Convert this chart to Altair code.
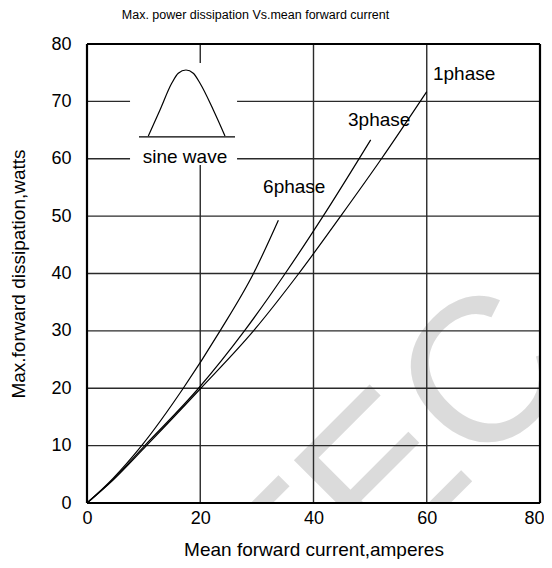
import altair as alt
import pandas as pd

# ---- data ----
x_1phase = [0, 4.6, 10.5, 20.1, 29.4, 37.4, 44.8, 52.0, 60.0]
y_1phase = [0, 4.0, 10, 20, 30, 40, 50, 60, 71.7]
x_3phase = [0, 4.6, 10.2, 19.7, 27.8, 35.0, 41.7, 50.1]
y_3phase = [0, 4.1, 10, 20, 30, 40, 50, 63.3]
x_6phase = [0, 4.6, 9.65, 17.0, 23.5, 29.4, 33.8]
y_6phase = [0, 4.3, 10, 20, 30, 40, 49.3]

series_names = ["1phase", "3phase", "6phase"]
label_x = [61.1, 46.1, 31.1]
label_y = [74.8, 66.8, 55.1]

x_ticks = [0, 20, 40, 60, 80]
y_ticks = [0, 10, 20, 30, 40, 50, 60, 70, 80]
x_grid = [20, 40, 60]
y_grid = [10, 20, 30, 40, 50, 60, 70]
frame_vals = [0, 80]

# sine-wave inset glyph
sine_x = [10.83, 12.89, 14.96, 16.12, 17.48, 18.77, 19.96, 22.31, 24.37]
sine_y = [63.97, 68.5, 73.15, 74.9, 75.47, 74.9, 73.15, 68.5, 63.97]
sine_base_x = [9.18, 26.14]
sine_base_y = 63.8
inset_box_x = [7.6, 26.5]
inset_box_y = [58.9, 76.7]
inset_label = "sine wave"
inset_label_pos = [17.3, 60.3]

rows = []
for name, xs_, ys_ in [("1phase", x_1phase, y_1phase),
                       ("3phase", x_3phase, y_3phase),
                       ("6phase", x_6phase, y_6phase)]:
    for i, (a, b) in enumerate(zip(xs_, ys_)):
        rows.append({"series": name, "x": a, "y": b, "order": i})
curves_df = pd.DataFrame(rows)
labels_df = pd.DataFrame({"series": series_names, "x": label_x, "y": label_y})
sine_df = pd.DataFrame({"x": sine_x, "y": sine_y, "order": list(range(len(sine_x)))})

FONT = "Liberation Sans"
xs = alt.Scale(domain=[0, 80], nice=False)
ys = alt.Scale(domain=[0, 80], nice=False)

# faint watermark inside the plot area
watermark = alt.Chart(pd.DataFrame({"t": ["TEC"]})).mark_text(
    font=FONT, fontSize=205, angle=315, align="left", baseline="alphabetic",
    color="#c4c4c4", opacity=0.6, clip=True
).encode(x=alt.datum(36.4, scale=xs), y=alt.datum(-27.4, scale=ys), text="t:N")

vgrid = alt.Chart(pd.DataFrame({"g": x_grid})).mark_rule(
    color="#2a2a2a", strokeWidth=1.4
).encode(
    x=alt.X("g:Q", scale=xs, axis=alt.Axis(
        values=x_ticks, grid=False, ticks=False, domain=False,
        labelFontSize=18, labelFont=FONT, labelColor="#000", labelPadding=6,
        labelAlign=alt.condition("datum.value == 80", alt.value("right"), alt.value("center")),
        labelOffset=alt.condition("datum.value == 80", alt.value(4), alt.value(0)),
        title="Mean forward  current,amperes", titleFontSize=19, titleFont=FONT,
        titleFontWeight="normal", titleColor="#000", titlePadding=13)),
    y=alt.datum(0, scale=ys), y2=alt.datum(80),
)
hgrid = alt.Chart(pd.DataFrame({"g": y_grid})).mark_rule(
    color="#2a2a2a", strokeWidth=1.4
).encode(
    y=alt.Y("g:Q", scale=ys, axis=alt.Axis(
        values=y_ticks, grid=False, ticks=False, domain=False,
        labelFontSize=18, labelFont=FONT, labelColor="#000", labelPadding=16,
        title="Max.forward  dissipation,watts", titleFontSize=19, titleFont=FONT,
        titleFontWeight="normal", titleColor="#000", titlePadding=22)),
    x=alt.datum(0, scale=xs), x2=alt.datum(80),
)

inset_box = alt.Chart(pd.DataFrame({"x": [inset_box_x[0]], "x2": [inset_box_x[1]],
                                    "y": [inset_box_y[0]], "y2": [inset_box_y[1]]})).mark_rect(
    color="white"
).encode(x=alt.X("x:Q", scale=xs), x2="x2:Q", y=alt.Y("y:Q", scale=ys), y2="y2:Q")

sine = alt.Chart(sine_df).mark_line(color="black", strokeWidth=1.2, interpolate="monotone").encode(
    x=alt.X("x:Q", scale=xs), y=alt.Y("y:Q", scale=ys), order="order:Q")
sine_base = alt.Chart(pd.DataFrame({"x": [sine_base_x[0]], "x2": [sine_base_x[1]], "y": [sine_base_y]})).mark_rule(
    color="black", strokeWidth=1.2
).encode(x=alt.X("x:Q", scale=xs), x2="x2:Q", y=alt.Y("y:Q", scale=ys))
sine_text = alt.Chart(pd.DataFrame({"t": [inset_label], "x": [inset_label_pos[0]], "y": [inset_label_pos[1]]})).mark_text(
    font=FONT, fontSize=19, color="black", align="center", baseline="middle"
).encode(x=alt.X("x:Q", scale=xs), y=alt.Y("y:Q", scale=ys), text="t:N")

curves = alt.Chart(curves_df).mark_line(color="black", strokeWidth=1.2, interpolate="monotone").encode(
    x=alt.X("x:Q", scale=xs), y=alt.Y("y:Q", scale=ys), detail="series:N", order="order:Q")
curve_labels = alt.Chart(labels_df).mark_text(
    font=FONT, fontSize=19, color="black", align="left", baseline="middle"
).encode(x=alt.X("x:Q", scale=xs), y=alt.Y("y:Q", scale=ys), text="series:N")

frame_v = alt.Chart(pd.DataFrame({"f": frame_vals})).mark_rule(color="black", strokeWidth=2.2).encode(
    x=alt.X("f:Q", scale=xs), y=alt.datum(0, scale=ys), y2=alt.datum(80))
frame_h = alt.Chart(pd.DataFrame({"f": frame_vals})).mark_rule(color="black", strokeWidth=2.2).encode(
    y=alt.Y("f:Q", scale=ys), x=alt.datum(0, scale=xs), x2=alt.datum(80))

chart = alt.layer(
    watermark, vgrid, hgrid, inset_box, sine, sine_base, sine_text,
    curves, curve_labels, frame_v, frame_h
).properties(
    width=453, height=459,
    title=alt.TitleParams("Max. power dissipation  Vs.mean  forward current",
                          font=FONT, fontSize=12.5, fontWeight="normal",
                          color="#000", anchor="middle", dx=-58, offset=14),
    autosize=alt.AutoSizeParams(type="none"),
    padding={"left": 79, "top": 36, "right": 4, "bottom": 56},
).configure_view(stroke=None).configure(background="white")

chart.save("out.html", embed_options={"renderer": "svg", "actions": False})
